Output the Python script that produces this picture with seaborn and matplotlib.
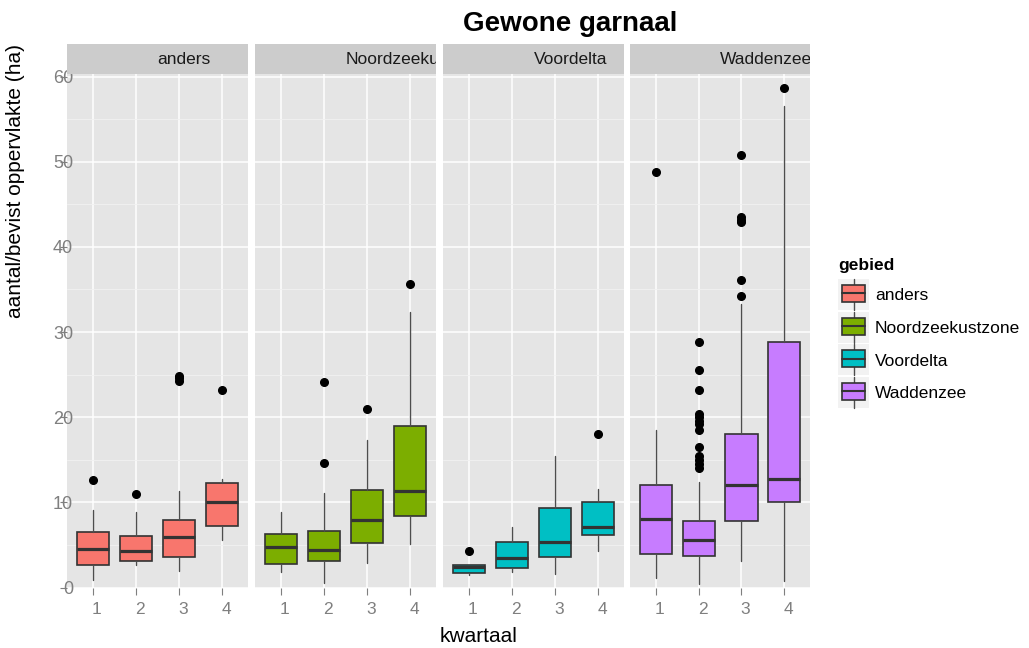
import matplotlib
matplotlib.use("Agg")
import matplotlib.pyplot as plt
import matplotlib.transforms as mtransforms
from matplotlib.patches import Rectangle
from matplotlib.lines import Line2D
import seaborn as sns

# ---- data: five-number summaries and outliers per quarter ----
kwartaal = [1, 2, 3, 4]
gebieden = ["anders", "Noordzeekustzone", "Voordelta", "Waddenzee"]
hex_colors = ["#F8766D", "#7CAE00", "#00BFC4", "#C77CFF"]

anders_lo = [0.94, 2.6, 1.9, 5.6]
anders_q1 = [2.7, 3.1, 3.6, 7.2]
anders_med = [4.5, 4.3, 5.95, 10.0]
anders_q3 = [6.5, 6.1, 7.9, 12.3]
anders_hi = [9.1, 8.9, 11.3, 12.75]
anders_out = [[12.6], [10.95], [24.3, 24.6, 24.9], [23.2]]

noord_lo = [1.8, 0.55, 2.9, 5.1]
noord_q1 = [2.75, 3.1, 5.25, 8.4]
noord_med = [4.8, 4.45, 7.95, 11.3]
noord_q3 = [6.25, 6.6, 11.4, 18.95]
noord_hi = [8.9, 11.1, 17.3, 32.3]
noord_out = [[], [14.6, 24.1], [21.0], [35.7]]

voor_lo = [1.5, 1.8, 1.55, 4.3]
voor_q1 = [1.7, 2.25, 3.55, 6.2]
voor_med = [2.4, 3.45, 5.3, 7.1]
voor_q3 = [2.6, 5.3, 9.4, 10.1]
voor_hi = [2.6, 7.1, 15.5, 11.6]
voor_out = [[4.3], [], [], [18.0]]

wad_lo = [1.1, 0.45, 3.1, 0.8]
wad_q1 = [3.9, 3.7, 7.8, 10.0]
wad_med = [8.1, 5.6, 12.0, 12.8]
wad_q3 = [12.1, 7.8, 18.0, 28.8]
wad_hi = [18.5, 12.4, 33.3, 56.5]
wad_out = [[48.8],
           [14.0, 14.5, 15.0, 15.5, 16.5, 18.5, 19.25, 19.6, 20.0, 20.4, 23.2, 25.6, 28.8],
           [34.2, 36.1, 42.9, 43.2, 43.5, 50.8],
           [58.6]]

series = [
    (anders_lo, anders_q1, anders_med, anders_q3, anders_hi, anders_out),
    (noord_lo, noord_q1, noord_med, noord_q3, noord_hi, noord_out),
    (voor_lo, voor_q1, voor_med, voor_q3, voor_hi, voor_out),
    (wad_lo, wad_q1, wad_med, wad_q3, wad_hi, wad_out),
]

# ---- style ----
sns.set_theme(style="darkgrid")
plt.rcParams["font.family"] = ["Liberation Sans", "DejaVu Sans"]
plt.rcParams["text.color"] = "black"
palette = sns.color_palette(hex_colors)

W, H = 1029, 648
fig = plt.figure(figsize=(W / 100, H / 100), dpi=100)
fig.patch.set_facecolor("white")


def px_axes(x0, y0, x1, y1):
    return fig.add_axes([x0 / W, 1 - y1 / H, (x1 - x0) / W, (y1 - y0) / H])


panel_x = [(67, 248), (255, 436), (443, 624), (630, 810)]
top, bottom, strip_top = 74, 588, 44
grey_txt = "#7F7F7F"

for i, (name, col, (lo, q1, med, q3, hi, out)) in enumerate(zip(gebieden, palette, series)):
    x0, x1 = panel_x[i]
    ax = px_axes(x0, top, x1, bottom)
    ax.set_facecolor("#E5E5E5")
    for s in ax.spines.values():
        s.set_visible(False)

    stats = [dict(whislo=lo[k], q1=q1[k], med=med[k], q3=q3[k], whishi=hi[k],
                  fliers=out[k], label=str(kwartaal[k])) for k in range(len(kwartaal))]
    bp = ax.bxp(stats, positions=kwartaal, widths=0.75, patch_artist=True,
                showcaps=False,
                boxprops=dict(edgecolor="#333333", linewidth=1.2),
                medianprops=dict(color="#333333", linewidth=2.3),
                whiskerprops=dict(color="#4D4D4D", linewidth=1.0),
                flierprops=dict(marker="o", markerfacecolor="black",
                                markeredgecolor="black", markersize=5.5))
    for b in bp["boxes"]:
        b.set_facecolor(col)
    for art in bp["boxes"] + bp["medians"] + bp["whiskers"] + bp["fliers"]:
        art.set_zorder(3)

    ax.set_xlim(0.4, 4.6)
    ax.set_ylim(-0.05, 60.3)
    ax.set_xticks(kwartaal)
    ax.set_xticklabels([str(k) for k in kwartaal])
    ax.set_yticks(range(0, 61, 10))
    ax.set_yticks(range(5, 60, 10), minor=True)
    ax.grid(which="major", color="white", linewidth=1.1)
    ax.grid(which="minor", axis="y", color="#F2F2F2", linewidth=0.6)
    ax.grid(which="minor", axis="x", visible=False)
    ax.set_axisbelow(True)

    ax.tick_params(axis="x", which="major", length=5, width=0.8, color=grey_txt,
                   labelcolor=grey_txt, labelsize=12.5, pad=5, bottom=True)
    ax.tick_params(axis="both", which="minor", length=0)
    shift = mtransforms.ScaledTranslation(4 / 100, 0, fig.dpi_scale_trans)
    for lab in ax.get_xticklabels():
        lab.set_transform(lab.get_transform() + shift)

    if i == 0:
        ax.tick_params(axis="y", which="major", length=5, width=0.8, color=grey_txt,
                       labelcolor=grey_txt, labelsize=13, pad=-9.4, left=True)
    else:
        ax.tick_params(axis="y", which="major", length=0, labelleft=False)

    # facet strip
    sa = px_axes(x0, strip_top, x1, top)
    sa.set_facecolor("#CCCCCC")
    sa.set_xticks([])
    sa.set_yticks([])
    for s in sa.spines.values():
        s.set_visible(False)
    t = sa.text(0.5, 0.47, name, ha="left", va="center", fontsize=12.5,
                color="#1A1A1A", transform=sa.transAxes)
    t.set_clip_on(True)

# titles
fig.text(570 / W, 1 - 24 / H, "Gewone garnaal", ha="center", va="center",
         fontsize=20, fontweight="bold", color="black")
fig.text(479 / W, 1 - 636 / H, "kwartaal", ha="center", va="center", fontsize=15,
         color="black")
fig.text(16 / W, 1 - 181 / H, "aantal/bevist oppervlakte (ha)", ha="center",
         va="center", rotation=90, fontsize=15, color="black")

# legend drawn in pixel coordinates
lg = px_axes(820, 230, 1029, 430)
lg.set_xlim(820, 1029)
lg.set_ylim(430, 230)
lg.axis("off")
lg.text(838, 266, "gebied", ha="left", va="center", fontsize=12.5,
        fontweight="bold", color="black")
for k, (name, col) in enumerate(zip(gebieden, palette)):
    ky = 279 + k * 32.6
    lg.add_patch(Rectangle((838, ky), 31, 31, facecolor="#F2F2F2", edgecolor="none"))
    lg.add_line(Line2D([853.5, 853.5], [ky, ky + 31], color="#4D4D4D", lw=1.0))
    lg.add_patch(Rectangle((842, ky + 6), 23, 17, facecolor=col,
                           edgecolor="#333333", lw=1.2, zorder=3))
    lg.add_line(Line2D([842, 865], [ky + 14.5, ky + 14.5], color="#333333",
                       lw=1.5, zorder=4))
    lg.text(875, ky + 17, name, ha="left", va="center", fontsize=12.5, color="black")

fig.savefig("out.png", dpi=100)
